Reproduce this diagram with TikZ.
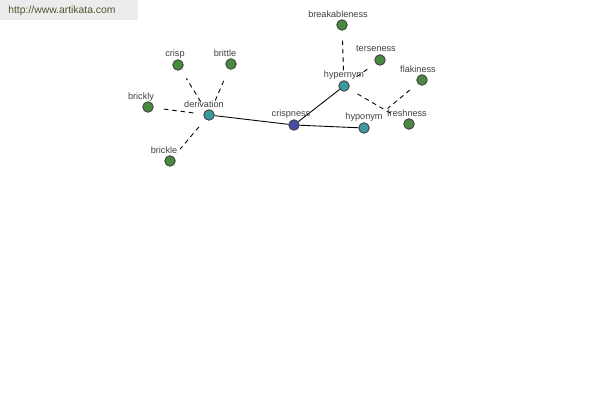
\documentclass[tikz,border=0pt]{standalone}
\usepackage{fontspec}
\setmainfont{Liberation Sans}
\definecolor{termgreen}{HTML}{4A8A40}
\definecolor{termteal}{HTML}{3A9AA0}
\definecolor{termblue}{HTML}{4A4AA8}
\definecolor{urlgray}{HTML}{ECECEC}
\definecolor{urltext}{HTML}{4A5A2A}
\tikzset{
  term/.style={circle, draw=black!75, line width=0.5pt, minimum size=0.21cm, inner sep=0pt},
  leaf/.style={term, fill=termgreen},
  rel/.style={term, fill=termteal},
  root/.style={term, fill=termblue},
  lbl/.style={font=\fontsize{5.2}{6}\selectfont, text=black!75, inner sep=0pt},
  solidedge/.style={line width=0.5pt, black},
  dashedge/.style={line width=0.5pt, black, dash pattern=on 2.6pt off 2.2pt, shorten <=0.2cm, shorten >=0.2cm}
}

\begin{document}
\begin{tikzpicture}
\useasboundingbox (0,0) rectangle (12,-8);
\fill[white] (0,0) rectangle (12,-8);
\fill[urlgray] (0,0) rectangle (2.76,-0.40);
\node[anchor=west, font=\fontsize{5.9}{7}\selectfont, text=urltext, inner sep=0pt] (url) at (0.16,-0.22) {http://www.artikata.com};
% the word and its relations
\node[root] (crispness) at (5.88,-2.50) {};
\node[rel] (derivation) at (4.18,-2.30) {};
\node[rel] (hypernym) at (6.88,-1.72) {};
\node[rel] (hyponym) at (7.28,-2.56) {};
% related words
\node[leaf] (crisp) at (3.56,-1.30) {};
\node[leaf] (brittle) at (4.62,-1.28) {};
\node[leaf] (brickly) at (2.96,-2.14) {};
\node[leaf] (brickle) at (3.40,-3.22) {};
\node[leaf] (breakableness) at (6.84,-0.50) {};
\node[leaf] (terseness) at (7.60,-1.20) {};
\node[leaf] (flakiness) at (8.44,-1.60) {};
\node[leaf] (freshness) at (8.18,-2.48) {};
% edges
\draw[solidedge] (derivation) -- (crispness);
\draw[solidedge] (crispness) -- (hypernym);
\draw[solidedge] (crispness) -- (hyponym);
\draw[dashedge] (derivation) -- (crisp);
\draw[dashedge] (derivation) -- (brittle);
\draw[dashedge] (derivation) -- (brickly);
\draw[dashedge] (derivation) -- (brickle);
\draw[dashedge] (hypernym) -- (breakableness);
\draw[dashedge] (hypernym) -- (terseness);
\draw[dashedge, shorten >=0.3cm] (hypernym) -- (freshness);
\draw[dashedge, shorten >=0.5cm] (flakiness) -- (hyponym);
% labels
\node[lbl] (crispness-l) at (5.82,-2.28) {crispness};
\node[lbl] (derivation-l) at (4.08,-2.08) {derivation};
\node[lbl] (hypernym-l) at (6.88,-1.50) {hypernym};
\node[lbl] (hyponym-l) at (7.28,-2.34) {hyponym};
\node[lbl] (crisp-l) at (3.50,-1.08) {crisp};
\node[lbl] (brittle-l) at (4.50,-1.06) {brittle};
\node[lbl] (brickly-l) at (2.82,-1.94) {brickly};
\node[lbl] (brickle-l) at (3.28,-3.00) {brickle};
\node[lbl] (breakableness-l) at (6.76,-0.28) {breakableness};
\node[lbl] (terseness-l) at (7.52,-0.98) {terseness};
\node[lbl] (flakiness-l) at (8.36,-1.38) {flakiness};
\node[lbl] (freshness-l) at (8.14,-2.26) {freshness};
\end{tikzpicture}
\end{document}
